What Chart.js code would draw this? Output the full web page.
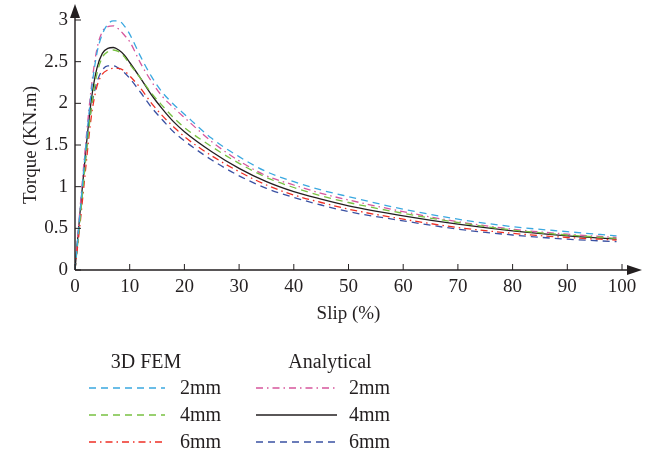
<!DOCTYPE html>
<html>
<head>
<meta charset="utf-8">
<script src="https://cdn.jsdelivr.net/npm/chart.js@4"></script>
<style>
  html, body { margin: 0; padding: 0; background: #fff; }
  #wrap { width: 653px; height: 453px; }
</style>
</head>
<body>
<div id="wrap"><canvas id="myChart" width="653" height="453"></canvas></div>
<script>
'use strict';
// data
let slip = [0, 1, 2, 3, 4, 5, 6, 7, 8, 9, 10, 12, 14, 16, 18, 20, 25, 30, 35, 40, 45, 50, 60, 70, 80, 90, 99];
let fem2 = [0, 0.75, 1.5, 2.15, 2.6, 2.83, 2.95, 2.99, 2.99, 2.93, 2.83, 2.56, 2.32, 2.13, 1.99, 1.87, 1.58, 1.36, 1.18, 1.06, 0.96, 0.88, 0.73, 0.61, 0.52, 0.46, 0.41];
let fem4 = [0, 0.65, 1.35, 1.95, 2.35, 2.55, 2.62, 2.64, 2.62, 2.56, 2.47, 2.3, 2.12, 1.97, 1.83, 1.71, 1.48, 1.28, 1.11, 0.99, 0.89, 0.81, 0.68, 0.57, 0.48, 0.42, 0.38];
let fem6 = [0, 0.6, 1.25, 1.85, 2.2, 2.35, 2.4, 2.42, 2.42, 2.39, 2.33, 2.18, 2.0, 1.85, 1.72, 1.6, 1.37, 1.18, 1.02, 0.9, 0.81, 0.73, 0.61, 0.51, 0.44, 0.39, 0.36];
let ana2 = [0, 0.8, 1.55, 2.2, 2.65, 2.86, 2.92, 2.93, 2.89, 2.82, 2.74, 2.48, 2.26, 2.08, 1.95, 1.83, 1.54, 1.31, 1.13, 1.02, 0.92, 0.84, 0.7, 0.58, 0.49, 0.43, 0.39];
let ana4 = [0, 0.75, 1.45, 2.05, 2.42, 2.6, 2.66, 2.67, 2.64, 2.58, 2.49, 2.3, 2.1, 1.93, 1.78, 1.66, 1.42, 1.22, 1.06, 0.94, 0.85, 0.77, 0.65, 0.55, 0.47, 0.41, 0.37];
let ana6 = [0, 0.7, 1.4, 1.95, 2.25, 2.4, 2.45, 2.45, 2.42, 2.37, 2.3, 2.13, 1.95, 1.8, 1.66, 1.55, 1.32, 1.13, 0.98, 0.87, 0.78, 0.7, 0.59, 0.49, 0.42, 0.37, 0.34];
let xTicks = [0, 10, 20, 30, 40, 50, 60, 70, 80, 90, 100];
let yTicks = [0, 0.5, 1, 1.5, 2, 2.5, 3];
let sizes = ['2mm', '4mm', '6mm'];

const SERIF = '"Liberation Serif", "DejaVu Serif", serif';
const INK = '#231f20';

function pts(arr) {
  return slip.map(function (s, i) { return { x: s, y: arr[i] }; });
}
function line(label, arr, color, dash) {
  return {
    label: label,
    data: pts(arr),
    borderColor: color,
    borderDash: dash,
    borderWidth: 1.3,
    pointRadius: 0,
    fill: false,
    cubicInterpolationMode: 'monotone'
  };
}

let datasets = [
  line('3D FEM 2mm', fem2, '#3aa8e0', [7, 5]),
  line('3D FEM 4mm', fem4, '#78c142', [7, 5]),
  line('3D FEM 6mm', fem6, '#ee2f24', [7, 4, 1.5, 4]),
  line('Analytical 2mm', ana2, '#d6569c', [7, 4, 1.5, 4]),
  line('Analytical 4mm', ana4, INK, []),
  line('Analytical 6mm', ana6, '#3a51a3', [7, 5])
];

// axes with arrows, inward ticks and the two-column legend
const decor = {
  id: 'decor',
  afterDraw(chart) {
    let c = chart.ctx;
    let xs = chart.scales.x, ys = chart.scales.y;
    let x0 = xs.getPixelForValue(0), y0 = ys.getPixelForValue(0);
    let xEnd = xs.getPixelForValue(100), yTop = ys.getPixelForValue(3);
    c.save();
    c.strokeStyle = INK;
    c.fillStyle = INK;
    c.lineWidth = 1.4;
    c.setLineDash([]);
    c.beginPath();
    c.moveTo(x0, y0); c.lineTo(xEnd + 6, y0);
    c.moveTo(x0, y0); c.lineTo(x0, yTop - 4);
    c.stroke();
    c.lineWidth = 1;
    c.beginPath();
    xTicks.forEach(function (t) {
      let px = xs.getPixelForValue(t);
      c.moveTo(px, y0); c.lineTo(px, y0 - 6);
    });
    yTicks.forEach(function (t) {
      let py = ys.getPixelForValue(t);
      c.moveTo(x0, py); c.lineTo(x0 + 6, py);
    });
    c.stroke();
    // arrow heads
    c.beginPath();
    c.moveTo(xEnd + 20, y0); c.lineTo(xEnd + 5, y0 - 5); c.lineTo(xEnd + 5, y0 + 5);
    c.closePath(); c.fill();
    c.beginPath();
    c.moveTo(x0, yTop - 16); c.lineTo(x0 - 5, yTop - 2); c.lineTo(x0 + 5, yTop - 2);
    c.closePath(); c.fill();

    // legend
    c.font = '20px ' + SERIF;
    c.textBaseline = 'middle';
    c.textAlign = 'center';
    c.fillText('3D FEM', 146, 363);
    c.fillText('Analytical', 330, 363);
    c.textAlign = 'left';
    let rows = [388, 415, 442];
    let cols = [{ x1: 89, x2: 165, tx: 180 }, { x1: 256, x2: 337, tx: 349 }];
    chart.data.datasets.forEach(function (ds, i) {
      let col = cols[Math.floor(i / 3)];
      let ry = rows[i % 3];
      c.strokeStyle = ds.borderColor;
      c.lineWidth = ds.borderWidth;
      c.setLineDash(ds.borderDash);
      c.beginPath();
      c.moveTo(col.x1, ry); c.lineTo(col.x2, ry);
      c.stroke();
      c.setLineDash([]);
      c.fillStyle = INK;
      c.fillText(sizes[i % 3], col.tx, ry + 1);
    });
    c.restore();
  }
};

let ctx = document.getElementById('myChart').getContext('2d');
new Chart(ctx, {
  type: 'line',
  data: { datasets: datasets },
  options: {
    responsive: false,
    animation: false,
    layout: { padding: { top: 20, right: 31, bottom: 128, left: 0 } },
    plugins: { legend: { display: false }, tooltip: { enabled: false } },
    scales: {
      x: {
        type: 'linear',
        min: 0,
        max: 100,
        afterBuildTicks: function (s) { s.ticks = xTicks.map(function (v) { return { value: v }; }); },
        afterFit: function (s) { s.height = 55; },
        grid: { display: false, drawTicks: false },
        border: { display: false },
        ticks: { color: INK, padding: 6, maxRotation: 0, font: { family: SERIF, size: 19 } },
        title: { display: true, text: 'Slip (%)', color: INK, padding: { top: 2, bottom: 0 }, font: { family: SERIF, size: 19 } }
      },
      y: {
        type: 'linear',
        min: 0,
        max: 3,
        afterBuildTicks: function (s) { s.ticks = yTicks.map(function (v) { return { value: v }; }); },
        afterFit: function (s) { s.width = 75; },
        grid: { display: false, drawTicks: false },
        border: { display: false },
        ticks: {
          color: INK, padding: 7, font: { family: SERIF, size: 19 },
          callback: function (v) { return String(v); }
        },
        title: { display: true, text: 'Torque (KN.m)', color: INK, padding: { top: 20, bottom: 4 }, font: { family: SERIF, size: 19 } }
      }
    }
  },
  plugins: [decor]
});
</script>
</body>
</html>
